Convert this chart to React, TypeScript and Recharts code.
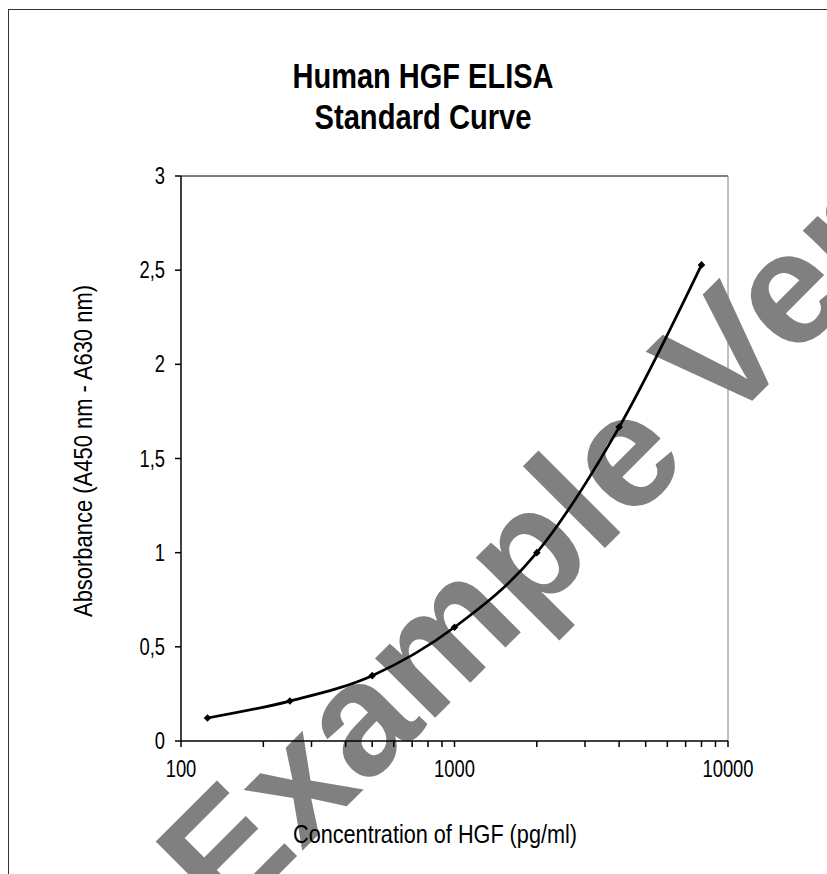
import { LineChart, Line, XAxis, YAxis, ReferenceLine } from 'recharts';

// standard curve readings
const concentrations = [125, 250, 500, 1000, 2000, 4000, 8000];
const absorbance = [0.122, 0.212, 0.347, 0.604, 1.0, 1.667, 2.528];

const xTicks = [100, 200, 300, 400, 500, 600, 700, 800, 900, 1000, 2000, 3000, 4000, 5000, 6000, 7000, 8000, 9000, 10000];
const xLabelTicks = [100, 1000, 10000];
const yTicks = [0, 0.5, 1, 1.5, 2, 2.5, 3];

const titleLines = ['Human HGF ELISA', 'Standard Curve'];
const xTitle = 'Concentration of HGF (pg/ml)';
const yTitle = 'Absorbance (A450 nm - A630 nm)';
const watermark = 'Example Version';

const FONT = "'Liberation Sans', Arial, sans-serif";
const NARROW = 0.8; // the original uses a narrow face; squeeze Liberation Sans to match

const data = concentrations.map((c, i) => ({ conc: c, abs: absorbance[i] }));

const Diamond = (props: any) => {
  const { cx, cy, index } = props;
  if (cx == null || cy == null) return null;
  const r = 3.8;
  return (
    <polygon
      key={`d-${index}`}
      points={`${cx},${cy - r} ${cx + r},${cy} ${cx},${cy + r} ${cx - r},${cy}`}
      fill="#000"
    />
  );
};

const XTick = (props: any) => {
  const { x, y, payload } = props;
  if (!xLabelTicks.includes(payload.value)) return null;
  return (
    <g transform={`translate(${x},${y})`}>
      <text transform={`scale(${NARROW},1)`} textAnchor="middle" dy={17} fontSize={23} fontFamily={FONT} fill="#000">
        {String(payload.value)}
      </text>
    </g>
  );
};

const YTick = (props: any) => {
  const { x, y, payload } = props;
  return (
    <g transform={`translate(${x},${y})`}>
      <text transform={`scale(${NARROW},1)`} textAnchor="end" dy={8} fontSize={23} fontFamily={FONT} fill="#000">
        {String(payload.value).replace('.', ',')}
      </text>
    </g>
  );
};

export default function App() {
  return (
    <div style={{ position: 'relative', width: 827, height: 874, overflow: 'hidden' }}>
      <style>{'html,body{margin:0;padding:0;overflow:hidden;background:#fff}'}</style>
      {/* outer frame, only left/top visible */}
      <div
        style={{
          position: 'absolute',
          left: 8,
          top: 9,
          width: 900,
          height: 900,
          borderLeft: '1px solid #333',
          borderTop: '1px solid #333',
        }}
      />
      {/* watermark sits behind the chart */}
      <svg width={827} height={874} style={{ position: 'absolute', left: 0, top: 0 }}>
        <text
          x={226}
          y={927}
          transform="rotate(-45 226 927)"
          fill="#808080"
          fontSize={160}
          fontWeight="bold"
          fontFamily={FONT}
        >
          {watermark}
        </text>
      </svg>
      <div style={{ position: 'absolute', left: 8, top: 8 }}>
        <LineChart width={819} height={866} data={data} margin={{ top: 168, right: 99, bottom: 0, left: 0 }}>
          <XAxis
            dataKey="conc"
            type="number"
            scale="log"
            domain={[100, 10000]}
            ticks={xTicks}
            interval={0}
            allowDataOverflow
            height={133}
            tickSize={6}
            tickMargin={13}
            stroke="#000"
            strokeWidth={1.5}
            tick={<XTick />}
          />
          <YAxis
            dataKey="abs"
            type="number"
            domain={[0, 3]}
            ticks={yTicks}
            interval={0}
            width={173}
            tickSize={6}
            tickMargin={10}
            stroke="#000"
            strokeWidth={1.5}
            tick={<YTick />}
          />
          <ReferenceLine y={3} stroke="#000" strokeWidth={1} />
          <ReferenceLine x={10000} stroke="#808080" strokeWidth={1} />
          <Line
            dataKey="abs"
            type="monotone"
            stroke="#000"
            strokeWidth={2.7}
            dot={Diamond}
            activeDot={false}
            isAnimationActive={false}
          />
          <text textAnchor="middle" fontFamily={FONT} fontWeight="bold" fontSize={35} fill="#000">
            <tspan x={415} y={80} textLength={261} lengthAdjust="spacingAndGlyphs">{titleLines[0]}</tspan>
            <tspan x={415} y={121} textLength={217} lengthAdjust="spacingAndGlyphs">{titleLines[1]}</tspan>
          </text>
          <text
            x={427}
            y={835}
            textAnchor="middle"
            fontFamily={FONT}
            fontSize={26}
            fill="#000"
            textLength={284}
            lengthAdjust="spacingAndGlyphs"
          >
            {xTitle}
          </text>
          <text
            x={84}
            y={443}
            transform="rotate(-90 84 443)"
            textAnchor="middle"
            fontFamily={FONT}
            fontSize={26}
            fill="#000"
            textLength={332}
            lengthAdjust="spacingAndGlyphs"
          >
            {yTitle}
          </text>
        </LineChart>
      </div>
    </div>
  );
}
